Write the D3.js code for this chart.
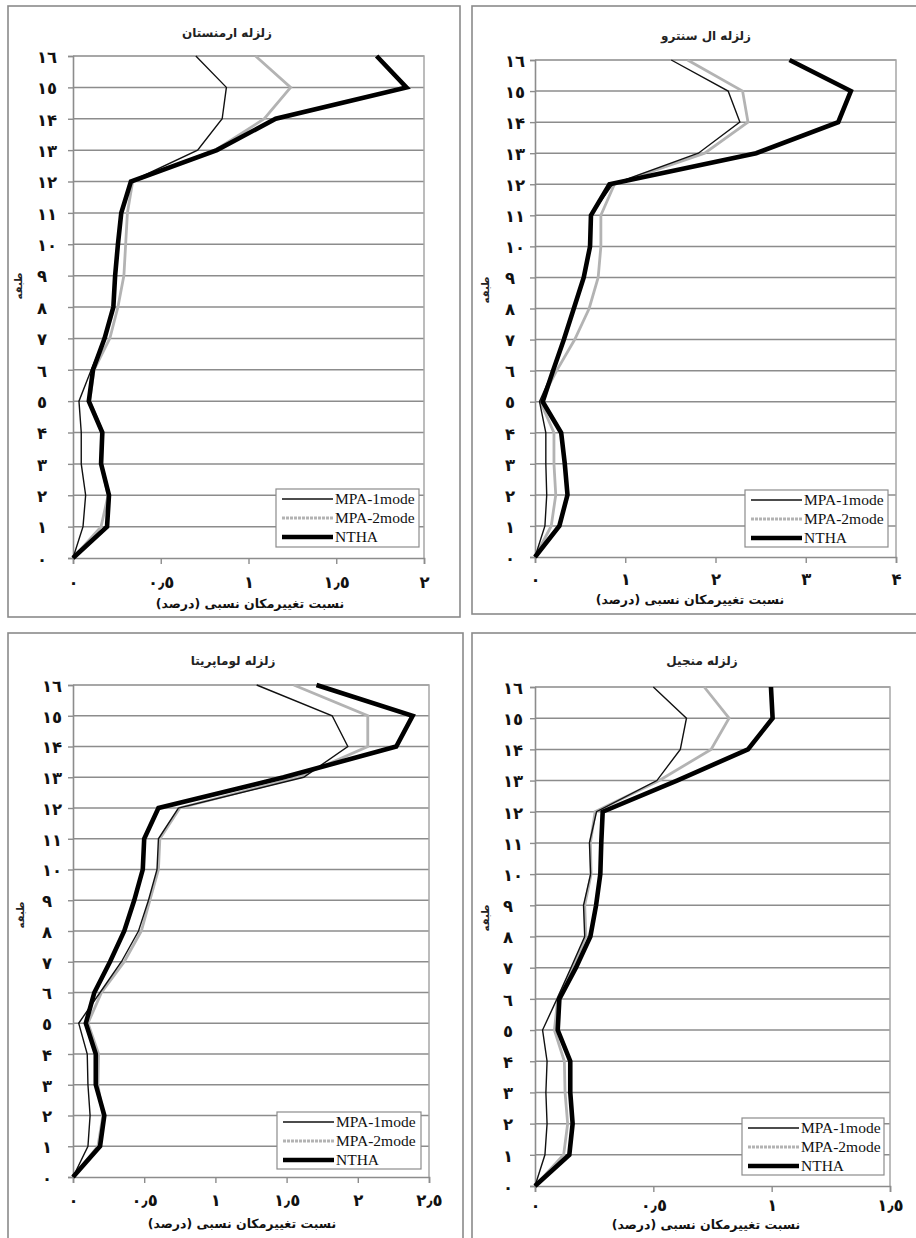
<!DOCTYPE html>
<html>
<head>
<meta charset="utf-8">
<script src="https://cdn.jsdelivr.net/npm/d3@7"></script>
<style>
  html, body { margin: 0; padding: 0; background: #fff; }
  svg { display: block; }
  .fa { font-family: "DejaVu Sans", sans-serif; font-weight: bold; }
  .leg { font-family: "Liberation Serif", "DejaVu Serif", serif; }
</style>
</head>
<body>
<script>
// Storey numbers (0 = base, 16 = roof)
const floors = d3.range(0, 17);

// Inter-storey drift ratio (%) per floor, floor 0 → 16
const armeniaMPA1 = [0, 0.057, 0.072, 0.047, 0.047, 0.034, 0.104, 0.18, 0.225, 0.24, 0.255, 0.27, 0.33, 0.71, 0.85, 0.874, 0.70];
const armeniaMPA2 = [0, 0.16, 0.20, 0.16, 0.17, 0.095, 0.12, 0.21, 0.256, 0.29, 0.30, 0.31, 0.34, 0.81, 1.09, 1.24, 1.04];
const armeniaNTHA = [0, 0.194, 0.205, 0.16, 0.167, 0.09, 0.114, 0.18, 0.23, 0.24, 0.256, 0.275, 0.33, 0.82, 1.155, 1.90, 1.73];

const elcentroMPA1 = [0, 0.11, 0.13, 0.12, 0.12, 0.05, 0.20, 0.32, 0.43, 0.54, 0.61, 0.62, 0.86, 1.81, 2.27, 2.14, 1.51];
const elcentroMPA2 = [0, 0.18, 0.23, 0.21, 0.21, 0.06, 0.24, 0.44, 0.60, 0.70, 0.73, 0.73, 0.88, 1.88, 2.36, 2.30, 1.69];
const elcentroNTHA = [0, 0.27, 0.36, 0.33, 0.29, 0.085, 0.20, 0.32, 0.43, 0.54, 0.61, 0.62, 0.825, 2.45, 3.36, 3.50, 2.82];

const lomaMPA1 = [0, 0.105, 0.12, 0.105, 0.10, 0.04, 0.19, 0.34, 0.46, 0.53, 0.59, 0.60, 0.74, 1.62, 1.93, 1.82, 1.29];
const lomaMPA2 = [0, 0.175, 0.21, 0.175, 0.18, 0.105, 0.20, 0.36, 0.48, 0.54, 0.60, 0.61, 0.75, 1.58, 2.07, 2.07, 1.55];
const lomaNTHA = [0, 0.19, 0.22, 0.16, 0.16, 0.09, 0.15, 0.26, 0.36, 0.43, 0.49, 0.50, 0.60, 1.48, 2.27, 2.385, 1.71];

const manjilMPA1 = [0, 0.042, 0.051, 0.046, 0.051, 0.032, 0.093, 0.152, 0.21, 0.205, 0.235, 0.23, 0.26, 0.515, 0.614, 0.64, 0.50];
const manjilMPA2 = [0, 0.121, 0.138, 0.127, 0.124, 0.082, 0.096, 0.16, 0.215, 0.21, 0.237, 0.234, 0.254, 0.525, 0.744, 0.82, 0.715];
const manjilNTHA = [0, 0.145, 0.159, 0.149, 0.149, 0.096, 0.103, 0.173, 0.234, 0.258, 0.276, 0.28, 0.286, 0.60, 0.90, 1.004, 0.997];

// Panel titles and x-axis ticks
const panelTitles = ["زلزله ارمنستان", "زلزله ال سنترو", "زلزله لوماپریتا", "زلزله منجیل"];
const xTicksArmenia = [0, 0.5, 1, 1.5, 2];
const xTicksElCentro = [0, 1, 2, 3, 4];
const xTicksLoma = [0, 0.5, 1, 1.5, 2, 2.5];
const xTicksManjil = [0, 0.5, 1, 1.5];

const seriesNames = ["MPA-1mode", "MPA-2mode", "NTHA"];
const xTitle = "نسبت تغییرمکان نسبی (درصد)";
const yTitle = "طبقه";

// Line styles per series
const seriesStyle = [
  { stroke: "#111", width: 1.4 },
  { stroke: "#b3b3b3", width: 2.8 },
  { stroke: "#000", width: 4.6 }
];

// Page layout for the four panels
const panels = [
  { title: panelTitles[0], series: [armeniaMPA1, armeniaMPA2, armeniaNTHA], ticks: xTicksArmenia,
    frame: [8, 6, 452, 611], plot: [73, 424, 56, 558], titlePos: [227, 37], xTitlePos: [250, 608], tickY: 587,
    yLabX: 37, yTitlePos: [18, 286], legend: [276, 489, 143, 58] },
  { title: panelTitles[1], series: [elcentroMPA1, elcentroMPA2, elcentroNTHA], ticks: xTicksElCentro,
    frame: [472, 6, 470, 608], plot: [535, 896, 60, 557], titlePos: [706, 40], xTitlePos: [690, 604], tickY: 584,
    yLabX: 505, yTitlePos: [485, 290], legend: [745, 490, 143, 57] },
  { title: panelTitles[2], series: [lomaMPA1, lomaMPA2, lomaNTHA], ticks: xTicksLoma,
    frame: [8, 633, 455, 700], plot: [73, 429, 685, 1177], titlePos: [233, 665], xTitlePos: [242, 1228], tickY: 1205,
    yLabX: 42, yTitlePos: [20, 915], legend: [277, 1112, 144, 57] },
  { title: panelTitles[3], series: [manjilMPA1, manjilMPA2, manjilNTHA], ticks: xTicksManjil,
    frame: [472, 633, 470, 700], plot: [535, 890, 687, 1186], titlePos: [702, 665], xTitlePos: [706, 1229], tickY: 1210,
    yLabX: 503, yTitlePos: [485, 918], legend: [742, 1118, 142, 57] }
];

// Persian/Arabic-Indic numerals with Arabic decimal separator
const digitsFa = "٠١٢٣۴٥٦٧٨٩";
const toFa = v => String(v).replace(/[0-9]/g, d => digitsFa[+d]).replace(".", "٫");

const W = 916, H = 1238;
const svg = d3.select("body").append("svg").attr("width", W).attr("height", H);

panels.forEach(p => {
  const [pl, pr, pt, pb] = p.plot;
  const xMax = p.ticks[p.ticks.length - 1];
  const x = d3.scaleLinear().domain([0, xMax]).range([pl, pr]);
  const y = d3.scaleLinear().domain([0, 16]).range([pb, pt]);
  const g = svg.append("g");

  // outer frame
  g.append("rect")
    .attr("x", p.frame[0]).attr("y", p.frame[1])
    .attr("width", p.frame[2]).attr("height", p.frame[3])
    .attr("fill", "#fff").attr("stroke", "#8a8a8a").attr("stroke-width", 1.6);

  // horizontal gridlines at every storey
  g.append("g").selectAll("line").data(floors.slice(1)).join("line")
    .attr("x1", pl).attr("x2", pr)
    .attr("y1", d => y(d)).attr("y2", d => y(d))
    .attr("stroke", "#8c8c8c").attr("stroke-width", 1.5);

  // plot area border (top / right)
  g.append("path")
    .attr("d", `M${pl},${pt}H${pr}V${pb}`)
    .attr("fill", "none").attr("stroke", "#a6a6a6").attr("stroke-width", 1.5);

  // y axis
  const yAxis = g.append("g").attr("transform", `translate(${pl},0)`)
    .call(d3.axisLeft(y).tickValues(floors).tickSize(5).tickFormat(toFa));
  yAxis.select(".domain").attr("stroke", "#8c8c8c").attr("stroke-width", 1.6);
  yAxis.selectAll(".tick line").attr("stroke", "#8c8c8c").attr("stroke-width", 1.4);
  yAxis.selectAll(".tick text")
    .attr("class", "fa").attr("x", p.yLabX - pl).attr("dy", "0.38em")
    .attr("text-anchor", "start").attr("font-size", 16.5).attr("fill", "#111");

  // x axis
  const xAxis = g.append("g").attr("transform", `translate(0,${pb})`)
    .call(d3.axisBottom(x).tickValues(p.ticks).tickSize(6).tickFormat(toFa));
  xAxis.select(".domain").attr("stroke", "#8c8c8c").attr("stroke-width", 1.6);
  xAxis.selectAll(".tick line").attr("stroke", "#8c8c8c").attr("stroke-width", 1.4);
  xAxis.selectAll(".tick text")
    .attr("class", "fa").attr("y", p.tickY - pb + 1).attr("dy", 0)
    .attr("font-size", 16.5).attr("fill", "#111");

  // series lines: gray, thin, then thick on top
  const line = d3.line().x(d => x(d[1])).y(d => y(d[0]));
  [1, 0, 2].forEach(i => {
    g.append("path")
      .datum(floors.map(f => [f, p.series[i][f]]))
      .attr("d", line)
      .attr("fill", "none")
      .attr("stroke", seriesStyle[i].stroke)
      .attr("stroke-width", seriesStyle[i].width)
      .attr("stroke-linejoin", "miter");
  });

  // panel title
  g.append("text").attr("class", "fa")
    .attr("x", p.titlePos[0]).attr("y", p.titlePos[1])
    .attr("direction", "rtl").attr("text-anchor", "middle")
    .attr("font-size", 12).attr("fill", "#222").text(p.title);

  // x-axis title
  g.append("text").attr("class", "fa")
    .attr("x", p.xTitlePos[0]).attr("y", p.xTitlePos[1])
    .attr("direction", "rtl").attr("text-anchor", "middle")
    .attr("font-size", 12.5).attr("fill", "#111").text(xTitle);

  // y-axis title
  g.append("text").attr("class", "fa")
    .attr("transform", `translate(${p.yTitlePos[0]},${p.yTitlePos[1]}) rotate(-90)`)
    .attr("direction", "rtl").attr("text-anchor", "middle").attr("dy", "0.35em")
    .attr("font-size", 10).attr("fill", "#222").text(yTitle);

  // legend
  const [lx, ly, lw, lh] = p.legend;
  const lg = g.append("g");
  lg.append("rect").attr("x", lx).attr("y", ly).attr("width", lw).attr("height", lh)
    .attr("fill", "#fff").attr("stroke", "#8c8c8c").attr("stroke-width", 1.2);
  seriesNames.forEach((name, i) => {
    const ry = ly + 10 + i * 19;
    lg.append("line").attr("x1", lx + 6).attr("x2", lx + 57).attr("y1", ry).attr("y2", ry)
      .attr("stroke", seriesStyle[i].stroke).attr("stroke-width", seriesStyle[i].width)
      .attr("stroke-dasharray", i === 1 ? "3,1" : null);
    lg.append("text").attr("class", "leg").attr("x", lx + 59).attr("y", ry).attr("dy", "0.35em")
      .attr("font-size", 15.5).attr("fill", "#111").text(name);
  });
});
</script>
</body>
</html>
